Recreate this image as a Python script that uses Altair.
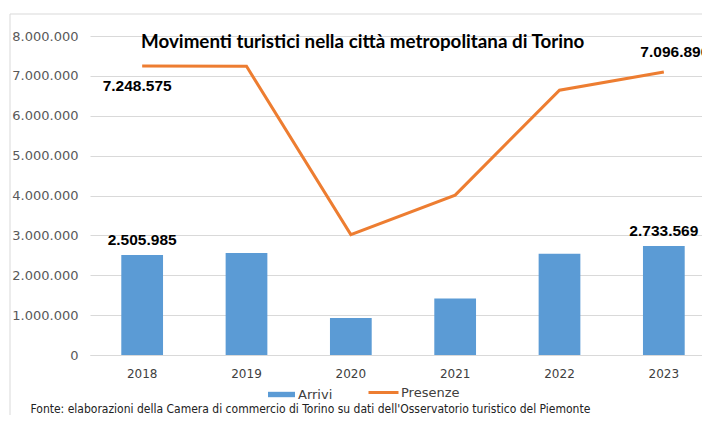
import altair as alt
import pandas as pd

anni = ["2018", "2019", "2020", "2021", "2022", "2023"]
arrivi = [2505985, 2560000, 930000, 1420000, 2540000, 2733569]
presenze = [7248575, 7240000, 3020000, 4010000, 6640000, 7096890]

titolo = "Movimenti turistici nella città metropolitana di Torino"
fonte = ("Fonte: elaborazioni della Camera di commercio di Torino su dati "
         "dell'Osservatorio turistico del Piemonte")


def fmt(v):
    return f"{v:,}".replace(",", ".")


df = pd.DataFrame({"anno": anni, "Arrivi": arrivi, "Presenze": presenze})
df["serieA"] = "Arrivi"
df["serieP"] = "Presenze"
df["labA"] = [fmt(v) for v in arrivi]
df["labP"] = [fmt(v) for v in presenze]

BLUE = "#5b9bd5"
ORANGE = "#ed7d31"
GRID = "#d9d9d9"
TXT = "#404040"

lab_expr = "replace(format(datum.value, ','), regexp(',', 'g'), '.')"

y_axis = alt.Axis(
    values=list(range(0, 8000001, 1000000)),
    labelExpr=lab_expr,
    grid=True, gridColor=GRID, domain=False, ticks=False, title=None,
    labelPadding=12, labelFont="DejaVu Sans", labelFontSize=13,
    labelColor="#595959",
)
y_scale = alt.Scale(domain=[0, 8000000], nice=False)

x_enc = alt.X(
    "anno:N",
    scale=alt.Scale(range=[0, 626], paddingInner=0.6, paddingOuter=0.3),
    axis=alt.Axis(
        labelAngle=0, ticks=False, domainColor=GRID, labelPadding=13,
        labelFont="DejaVu Sans", labelFontSize=12, labelColor=TXT,
        title=fonte, titleX=-60, titleY=57, titleAlign="left",
        titleBaseline="alphabetic", titleFont="DejaVu Sans Condensed",
        titleFontSize=12, titleFontWeight="normal", titleColor="#222222",
    ),
)

base = alt.Chart(df)
one = alt.Chart(pd.DataFrame({"k": [0]}))

frame = one.mark_rect(
    fill="transparent", stroke=GRID, strokeWidth=1
).encode(x=alt.value(-80), y=alt.value(-22), x2=alt.value(720), y2=alt.value(440))

title_mark = one.mark_text(
    align="left", baseline="alphabetic", font="Lato", fontSize=18.8,
    fontWeight="bold", color="#000000",
).encode(x=alt.value(51), y=alt.value(12), text=alt.value(titolo))

bars = base.mark_bar().encode(
    x=x_enc,
    y=alt.Y("Arrivi:Q", scale=y_scale, axis=y_axis),
    color=alt.Color(
        "serieA:N",
        scale=alt.Scale(domain=["Arrivi"], range=[BLUE]),
        legend=alt.Legend(
            orient="none", legendX=178, legendY=345, title=None,
            symbolType="M-1,-0.2L1,-0.2L1,0.2L-1,0.2Z", symbolSize=729,
            symbolStrokeWidth=0, symbolOpacity=1,
            labelFont="DejaVu Sans", labelFontSize=13, labelColor=TXT,
            labelOffset=3, padding=0,
        ),
    ),
)

line = base.mark_line(strokeWidth=3).encode(
    x=x_enc,
    y=alt.Y("Presenze:Q", scale=y_scale, axis=y_axis),
    stroke=alt.Stroke(
        "serieP:N",
        scale=alt.Scale(domain=["Presenze"], range=[ORANGE]),
        legend=alt.Legend(
            orient="none", legendX=277, legendY=340, title=None,
            symbolType="stroke", symbolSize=900, symbolStrokeWidth=3,
            labelFont="DejaVu Sans", labelFontSize=13, labelColor=TXT,
            labelOffset=1, padding=0,
        ),
    ),
)

lab_style = dict(font="Liberation Sans", fontWeight="bold", fontSize=15.5, color="#000000")

bar_labels = base.mark_text(dy=-15, **lab_style).encode(
    x=x_enc, y=alt.Y("Arrivi:Q", scale=y_scale, axis=y_axis), text="labA:N"
).transform_filter("datum.anno == '2018' || datum.anno == '2023'")

line_lab_first = base.mark_text(dx=-5, dy=20, **lab_style).encode(
    x=x_enc, y=alt.Y("Presenze:Q", scale=y_scale, axis=y_axis), text="labP:N"
).transform_filter("datum.anno == '2018'")

line_lab_last = base.mark_text(dx=11, dy=-20, **lab_style).encode(
    x=x_enc, y=alt.Y("Presenze:Q", scale=y_scale, axis=y_axis), text="labP:N"
).transform_filter("datum.anno == '2023'")

chart = alt.layer(
    frame, bars, line, bar_labels, line_lab_first, line_lab_last, title_mark
).resolve_scale(y="shared").properties(
    width=612, height=319,
    padding={"left": 82, "top": 28, "right": 0, "bottom": 60},
    autosize=alt.AutoSizeParams(type="none"),
    background="white",
).configure_view(stroke="transparent")

chart.save("out.html", embed_options={"renderer": "svg", "actions": False})
